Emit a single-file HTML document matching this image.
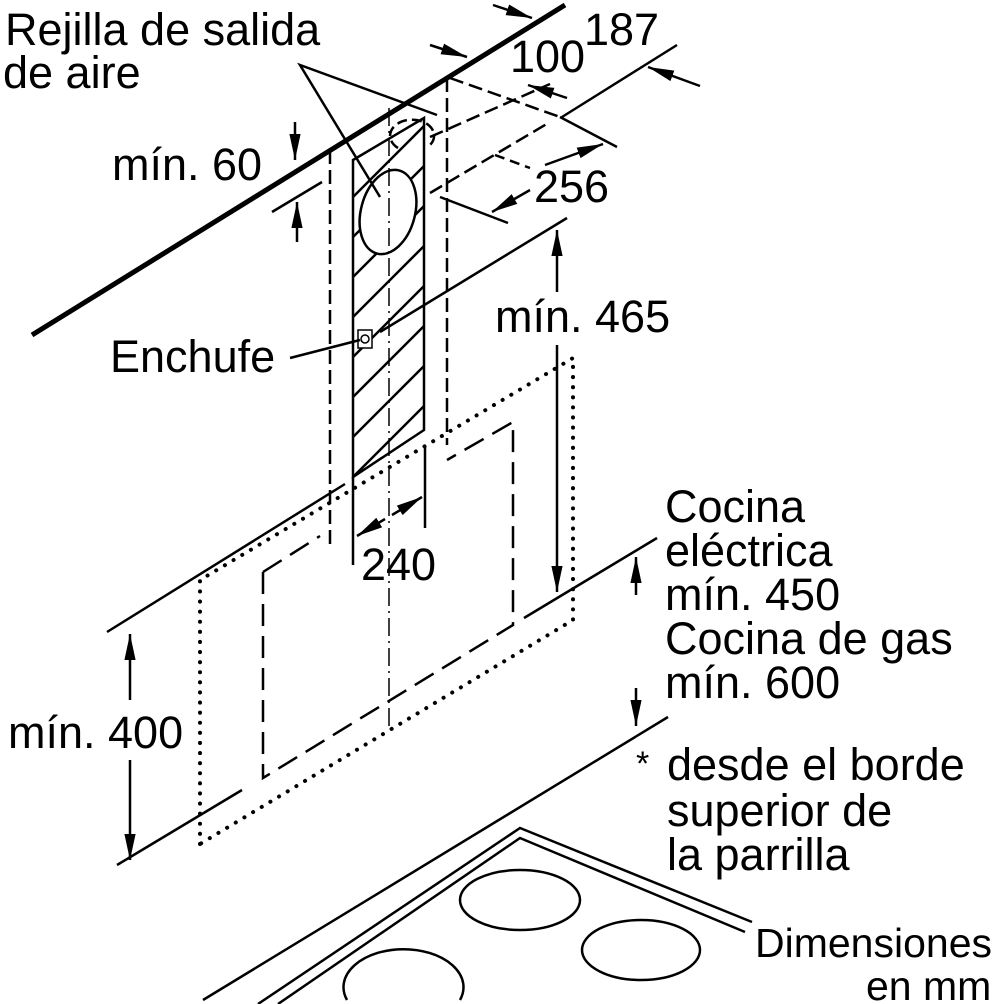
<!DOCTYPE html>
<html><head><meta charset="utf-8"><style>
html,body{margin:0;padding:0;background:#fff;}
svg{display:block;}
text{font-family:"Liberation Sans",sans-serif;font-size:45px;fill:#000;}
</style></head><body>
<svg width="1000" height="1004" viewBox="0 0 1000 1004" xmlns="http://www.w3.org/2000/svg">
<defs>
<marker id="b" viewBox="0 0 10 10" refX="10" refY="5" markerWidth="26" markerHeight="14" markerUnits="userSpaceOnUse" orient="auto" preserveAspectRatio="none"><path d="M0,1 L10,5 L0,9 Z" fill="#000"/></marker>
<clipPath id="duct"><path d="M353,160 L424,118 L424,430 L353,477 Z"/></clipPath>
</defs>
<g fill="none" stroke="#000" stroke-width="2.5">
<line x1="32" y1="335" x2="565" y2="5" stroke-width="5"/>
<g clip-path="url(#duct)">
<line x1="340" y1="210" x2="440" y2="110"/><line x1="340" y1="250" x2="440" y2="150"/>
<line x1="340" y1="290" x2="440" y2="190"/><line x1="340" y1="330" x2="440" y2="230"/>
<line x1="340" y1="370" x2="440" y2="270"/><line x1="340" y1="410" x2="440" y2="310"/>
<line x1="340" y1="450" x2="440" y2="350"/><line x1="340" y1="490" x2="440" y2="390"/>
<line x1="340" y1="530" x2="440" y2="430"/>
</g>
<ellipse cx="388" cy="212" rx="27" ry="43" transform="rotate(15 388 212)" fill="#fff"/>
<path d="M353,160 L424,118 L424,430 L353,477 Z"/>
<rect x="358" y="330" width="14" height="18" fill="#fff" stroke-width="1.5"/>
<circle cx="365" cy="339" r="4" stroke-width="1.5"/>
<path d="M398,148 A22,16 0 1 1 430,145" stroke-dasharray="10,5"/>
<line x1="389" y1="108" x2="389" y2="730" stroke-width="1.5" stroke-dasharray="18,5,2,5"/>
<line x1="330" y1="150" x2="330" y2="545" stroke-dasharray="14,6"/>
<line x1="447" y1="78" x2="447" y2="445" stroke-dasharray="14,6"/>
<line x1="450" y1="78" x2="560" y2="117" stroke-dasharray="14,6"/>
<line x1="560" y1="117" x2="617" y2="147"/>
<line x1="430" y1="137" x2="550" y2="84" stroke-dasharray="14,6"/>
<line x1="430" y1="193" x2="550" y2="122" stroke-dasharray="14,6"/>
<line x1="495" y1="155" x2="530" y2="168" stroke-dasharray="10,6"/>
<line x1="440" y1="197" x2="508" y2="223"/>
<polyline points="380,197 300,65 437,115"/>
<line x1="290" y1="358" x2="360" y2="340"/>
<line x1="380" y1="332" x2="567" y2="218"/>
<line x1="272" y1="212" x2="322" y2="182"/>
<line x1="295" y1="122" x2="295" y2="160" marker-end="url(#b)"/>
<line x1="297" y1="242" x2="297" y2="202" marker-end="url(#b)"/>
<line x1="493" y1="5" x2="532" y2="18" marker-end="url(#b)"/>
<line x1="562" y1="117" x2="677" y2="45"/>
<line x1="700" y1="86" x2="648" y2="67" marker-end="url(#b)"/>
<line x1="430" y1="45" x2="467" y2="57" marker-end="url(#b)"/>
<line x1="567" y1="98" x2="528" y2="85" marker-end="url(#b)"/>
<line x1="545" y1="165" x2="603" y2="144" marker-end="url(#b)"/>
<line x1="530" y1="190" x2="492" y2="212" marker-end="url(#b)"/>
<line x1="557" y1="292" x2="557" y2="230" marker-end="url(#b)"/>
<line x1="557" y1="345" x2="557" y2="592" marker-end="url(#b)"/>
<path d="M200,844 L200,580 L573,358 L573,620 Z" stroke-width="4" stroke-dasharray="0.1,10" stroke-linecap="round"/>
<path d="M263,572 L263,778 L513,625 L513,422 L447,460" stroke-dasharray="22,10"/>
<line x1="263" y1="572" x2="320" y2="536" stroke-dasharray="22,10"/>
<line x1="107" y1="632" x2="345" y2="484"/>
<line x1="117" y1="865" x2="242" y2="790"/>
<line x1="130" y1="700" x2="130" y2="634" marker-end="url(#b)"/>
<line x1="130" y1="760" x2="130" y2="860" marker-end="url(#b)"/>
<line x1="353" y1="477" x2="353" y2="565"/>
<line x1="425" y1="447" x2="425" y2="528"/>
<line x1="385" y1="519" x2="357" y2="536" marker-end="url(#b)"/>
<line x1="392" y1="515" x2="422" y2="497" marker-end="url(#b)"/>
<line x1="524" y1="618" x2="657" y2="538"/>
<line x1="636" y1="595" x2="636" y2="557" marker-end="url(#b)"/>
<line x1="636" y1="688" x2="636" y2="726" marker-end="url(#b)"/>
<line x1="203" y1="1000" x2="668" y2="717"/>
<polyline points="258,1004 520,828 752,922"/>
<polyline points="278,1004 520,838 745,932"/>
<ellipse cx="520" cy="900" rx="60" ry="30"/>
<ellipse cx="641" cy="950" rx="59" ry="30"/>
<path d="M347,1000 A60,38 0 1 1 460,1000"/>
</g>
<text x="5" y="45">Rejilla de salida</text>
<text x="3" y="88">de aire</text>
<text x="112" y="180">mín. 60</text>
<text x="110" y="372">Enchufe</text>
<text x="510" y="72">100</text>
<text x="584" y="45">187</text>
<text x="534" y="202">256</text>
<text x="495" y="332">mín. 465</text>
<text x="361" y="580">240</text>
<text x="8" y="748">mín. 400</text>
<text x="665" y="522">Cocina</text>
<text x="665" y="566">eléctrica</text>
<text x="665" y="610">mín. 450</text>
<text x="665" y="654">Cocina de gas</text>
<text x="665" y="698">mín. 600</text>
<text x="636" y="775" style="font-size:34px">*</text>
<text x="667" y="780">desde el borde</text>
<text x="667" y="826">superior de</text>
<text x="667" y="870">la parrilla</text>
<text x="755" y="957" style="font-size:41px">Dimensiones</text>
<text x="866" y="1000" style="font-size:41px">en mm</text>
</svg>
</body></html>
